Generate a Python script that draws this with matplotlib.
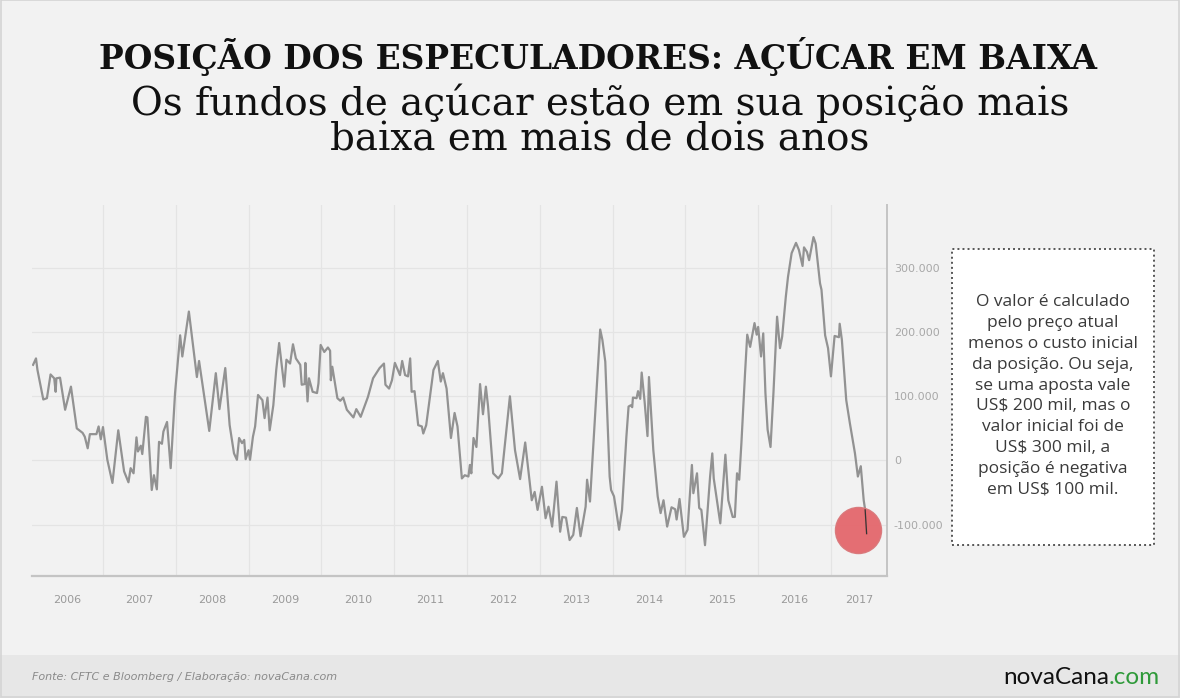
import matplotlib
matplotlib.use("Agg")
import matplotlib.pyplot as plt
from matplotlib.patches import Rectangle
from matplotlib.ticker import FuncFormatter, FixedLocator

# ---- data (decimal year, net position in thousands of US$) ----
dates = [
    2006.04, 2006.08, 2006.10, 2006.18, 2006.23, 2006.28, 2006.33, 2006.35, 2006.36, 2006.41,
    2006.48, 2006.56, 2006.64, 2006.72, 2006.75, 2006.79, 2006.82, 2006.91, 2006.94, 2006.97,
    2007.00, 2007.06, 2007.13, 2007.21, 2007.29, 2007.35, 2007.38, 2007.42, 2007.46, 2007.48,
    2007.52, 2007.54, 2007.59, 2007.61, 2007.67, 2007.70, 2007.74, 2007.77, 2007.81, 2007.83,
    2007.88, 2007.93, 2007.99, 2008.06, 2008.09, 2008.18, 2008.29, 2008.32, 2008.46, 2008.55,
    2008.60, 2008.68, 2008.74, 2008.80, 2008.84, 2008.87, 2008.91, 2008.94, 2008.96, 2009.00,
    2009.02, 2009.06, 2009.09, 2009.13, 2009.19, 2009.22, 2009.26, 2009.29, 2009.34, 2009.38,
    2009.42, 2009.49, 2009.52, 2009.57, 2009.61, 2009.65, 2009.71, 2009.73, 2009.77, 2009.78,
    2009.81, 2009.83, 2009.88, 2009.94, 2009.96, 2009.99, 2010.04, 2010.09, 2010.12, 2010.13,
    2010.15, 2010.22, 2010.26, 2010.30, 2010.35, 2010.44, 2010.48, 2010.54, 2010.64, 2010.71,
    2010.80, 2010.86, 2010.88, 2010.93, 2010.97, 2011.01, 2011.08, 2011.11, 2011.15, 2011.19,
    2011.22, 2011.24, 2011.28, 2011.33, 2011.38, 2011.40, 2011.44, 2011.54, 2011.60, 2011.64,
    2011.67, 2011.72, 2011.78, 2011.83, 2011.87, 2011.93, 2011.97, 2012.02, 2012.04, 2012.06,
    2012.09, 2012.13, 2012.18, 2012.22, 2012.26, 2012.29, 2012.36, 2012.43, 2012.48, 2012.59,
    2012.66, 2012.73, 2012.80, 2012.89, 2012.93, 2012.97, 2013.03, 2013.08, 2013.12, 2013.17,
    2013.23, 2013.28, 2013.31, 2013.36, 2013.41, 2013.46, 2013.51, 2013.56, 2013.63, 2013.65,
    2013.69, 2013.83, 2013.86, 2013.90, 2013.96, 2013.98, 2014.02, 2014.09, 2014.13, 2014.19,
    2014.22, 2014.25, 2014.27, 2014.28, 2014.33, 2014.35, 2014.38, 2014.40, 2014.44, 2014.48,
    2014.50, 2014.56, 2014.62, 2014.66, 2014.70, 2014.75, 2014.81, 2014.86, 2014.88, 2014.92,
    2014.98, 2015.03, 2015.09, 2015.11, 2015.16, 2015.19, 2015.22, 2015.27, 2015.34, 2015.37,
    2015.39, 2015.42, 2015.48, 2015.52, 2015.55, 2015.59, 2015.65, 2015.68, 2015.71, 2015.74,
    2015.77, 2015.82, 2015.85, 2015.89, 2015.95, 2015.98, 2016.00, 2016.04, 2016.07, 2016.10,
    2016.13, 2016.17, 2016.21, 2016.26, 2016.30, 2016.33, 2016.38, 2016.41, 2016.46, 2016.52,
    2016.56, 2016.61, 2016.63, 2016.67, 2016.70, 2016.76, 2016.79, 2016.85, 2016.87, 2016.92,
    2016.96, 2017.00, 2017.05, 2017.11, 2017.12, 2017.15, 2017.21, 2017.26, 2017.33, 2017.37,
    2017.41, 2017.45, 2017.47, 2017.49,
]
values_k = [
    149, 159, 141, 95, 97, 134, 128, 107, 128, 129,
    79, 115, 50, 43, 37, 19, 41, 41, 53, 33,
    52, 1, -35, 47, -17, -34, -12, -20, 36, 14,
    23, 10, 68, 67, -46, -23, -45, 29, 26, 45,
    60, -12, 105, 195, 162, 232, 130, 155, 46, 136,
    80, 144, 55, 11, 1, 35, 27, 32, 2, 16,
    1, 37, 53, 102, 94, 66, 98, 47, 86, 141,
    183, 115, 157, 151, 181, 159, 149, 118, 119, 152,
    92, 128, 107, 105, 120, 180, 169, 176, 171, 125,
    146, 97, 93, 98, 79, 67, 80, 68, 99, 128,
    144, 151, 118, 112, 125, 152, 133, 155, 133, 131,
    159, 107, 108, 55, 53, 42, 55, 141, 155, 123,
    136, 112, 35, 74, 53, -28, -23, -25, -7, -20,
    35, 21, 119, 72, 115, 84, -20, -28, -20, 100,
    16, -29, 28, -62, -49, -77, -41, -90, -72, -103,
    -33, -111, -88, -89, -124, -116, -74, -118, -72, -30,
    -64, 204, 188, 154, -25, -46, -56, -108, -77, 37,
    84, 86, 83, 98, 97, 108, 96, 137, 92, 38,
    130, 16, -56, -82, -62, -103, -73, -76, -92, -60,
    -119, -108, -7, -51, -20, -74, -77, -132, -25, 11,
    -28, -51, -98, -36, 9, -62, -88, -88, -20, -30,
    27, 136, 196, 177, 214, 196, 208, 162, 198, 105,
    48, 21, 105, 224, 175, 193, 255, 286, 323, 339,
    328, 303, 332, 325, 312, 348, 338, 276, 266, 195,
    175, 131, 194, 192, 213, 188, 94, 58, 11, -25,
    -9, -62, -77, -114,
]
years = list(range(2006, 2018))
y_ticks_k = [-100, 0, 100, 200, 300]
highlight_date = 2017.37
highlight_value_k = -108

title = "POSIÇÃO DOS ESPECULADORES: AÇÚCAR EM BAIXA"
subtitle = ["Os fundos de açúcar estão em sua posição mais", "baixa em mais de dois anos"]
note = ("O valor é calculado\npelo preço atual\nmenos o custo inicial\nda posição. Ou seja,\n"
        "se uma aposta vale\nUS$ 200 mil, mas o\nvalor inicial foi de\nUS$ 300 mil, a\n"
        "posição é negativa\nem US$ 100 mil.")
source = "Fonte: CFTC e Bloomberg / Elaboração: novaCana.com"

W, H = 1180, 698
BG = "#f2f2f2"
fig = plt.figure(figsize=(W / 100, H / 100), dpi=100, facecolor=BG)

def fx(px):
    return px / W

def fy(py):
    return 1 - py / H

# footer band and outer frame
fig.patches.append(Rectangle((0, 0), 1, fy(655), transform=fig.transFigure,
                             facecolor="#e7e7e7", edgecolor="none", zorder=0))
fig.patches.append(Rectangle((0.0005, 0.0008), 0.999, 0.9985, transform=fig.transFigure,
                             facecolor="none", edgecolor="#d4d4d4", lw=1.2, zorder=1))

# titles
fig.text(fx(598), fy(57), title, ha="center", va="center", fontsize=23.7,
         fontweight="heavy", family="DejaVu Serif", color="#111111")
fig.text(fx(600), fy(103), subtitle[0], ha="center", va="center", fontsize=28.0,
         family="DejaVu Serif", color="#111111")
fig.text(fx(600), fy(140), subtitle[1], ha="center", va="center", fontsize=28.0,
         family="DejaVu Serif", color="#111111")

# axes
x0, x1 = 2006.025, 2017.77
ax = fig.add_axes([fx(32), fy(576), fx(887) - fx(32), fy(205) - fy(576)])
ax.set_facecolor(BG)
ax.set_xlim(x0, x1)
ax.set_ylim(-180, 398)

for s in ["left", "top"]:
    ax.spines[s].set_visible(False)
ax.spines["right"].set_color("#c4c4c4")
ax.spines["bottom"].set_color("#c4c4c4")
ax.spines["right"].set_linewidth(1.4)
ax.spines["bottom"].set_linewidth(1.6)

ax.yaxis.tick_right()
ax.set_yticks(y_ticks_k)
ax.yaxis.set_major_formatter(FuncFormatter(
    lambda v, p: "0" if v == 0 else f"{int(v * 1000):,}".replace(",", ".")))
ax.tick_params(axis="y", length=0, pad=5, labelsize=8, labelcolor="#a8a8a8")

# year boundaries as gridlines, labels centered in visible part of each year
ax.xaxis.set_major_locator(FixedLocator(years[1:]))
ax.xaxis.set_major_formatter(FuncFormatter(lambda v, p: ""))
ax.tick_params(axis="x", length=0)
label_pos = [(max(y, x0) + min(y + 1, x1)) / 2 for y in years]
ax.xaxis.set_minor_locator(FixedLocator(label_pos))
ax.set_xticklabels([str(y) for y in years], minor=True)
ax.tick_params(axis="x", which="minor", length=0, pad=14, labelsize=8, labelcolor="#9a9a9a")

ax.grid(True, which="major", color="#e4e4e4", lw=0.9)
ax.set_axisbelow(True)

ax.plot(dates, values_k, color="#929292", lw=1.6, solid_joinstyle="round", zorder=3)
ax.scatter([highlight_date], [highlight_value_k], s=1100, color="#e4676c",
           edgecolor="#d9777a", lw=1, alpha=0.95, zorder=4)
ax.plot(dates[-2:], values_k[-2:], color="#333333", lw=0.9, zorder=5)

# note box
bx0, by0, bx1, by1 = 952, 249, 1154, 545
fig.patches.append(Rectangle((fx(bx0), fy(by1)), fx(bx1) - fx(bx0), fy(by0) - fy(by1),
                             transform=fig.transFigure, facecolor="white",
                             edgecolor="#555555", lw=1.4, linestyle=(0, (1, 1.6)), zorder=2))
fig.text(fx(1053), fy(396), note, ha="center", va="center", fontsize=12.5,
         family="Open Sans", color="#3a3a3a", linespacing=1.40, zorder=3)

# footer
fig.text(fx(32), fy(677), source, ha="left", va="center", fontsize=8.0,
         style="italic", family="Liberation Sans Narrow", color="#8a8a8a")
t1 = fig.text(fx(1160), fy(677), ".com", ha="right", va="center", fontsize=17.5,
              family="Lato", color="#2f9a3a")
fig.canvas.draw()
bb = t1.get_window_extent()
fig.text(bb.x0 / W, fy(677), "novaCana", ha="right", va="center", fontsize=17.5,
         family="Lato", color="#111111")

fig.savefig("out.png", dpi=100, facecolor=BG)
